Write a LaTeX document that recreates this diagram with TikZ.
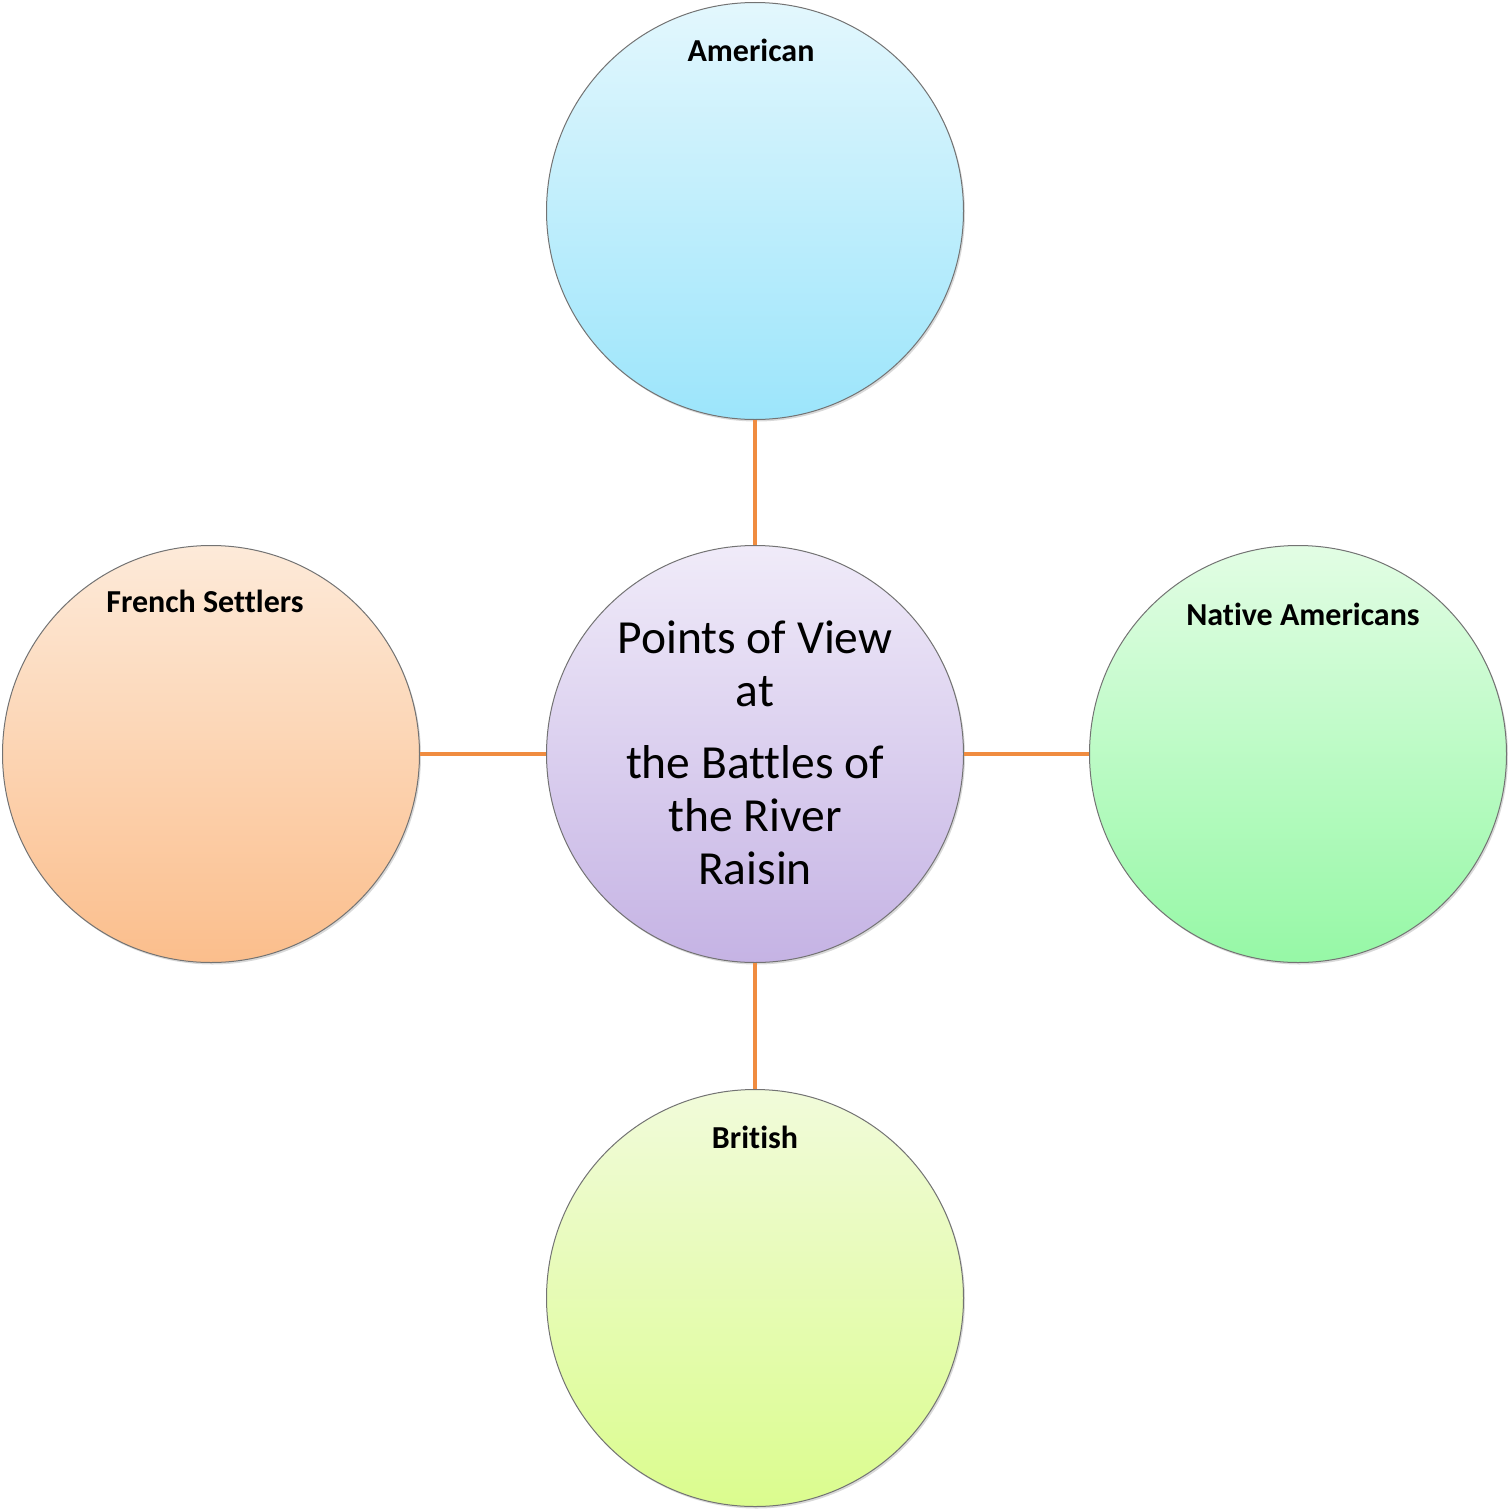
\documentclass[tikz,border=0pt]{standalone}
\usepackage{fontspec}
\setmainfont{Carlito}[Ligatures={NoCommon}]
\usetikzlibrary{shadows}
\begin{document}
\begin{tikzpicture}[x=1pt,y=-1pt,
  bubble/.style={circle,draw=black!55,line width=1pt,minimum size=417pt,inner sep=0pt,
    drop shadow={opacity=0.3,shadow xshift=1.5pt,shadow yshift=-2pt}},
  lab/.style={anchor=base,font=\fontsize{32}{38}\selectfont\bfseries,inner sep=0pt},
  ctext/.style={anchor=base,font=\fontsize{47.5}{57}\selectfont,inner sep=0pt},
  conn/.style={line width=4pt,color={rgb,255:red,240;green,140;blue,64}}]
\useasboundingbox (0,0) rectangle (1507,1509);
\node[bubble,top color={rgb,255:red,227;green,247;blue,253},bottom color={rgb,255:red,156;green,229;blue,251}] (am) at (755,211) {};
\node[bubble,top color={rgb,255:red,253;green,234;blue,217},bottom color={rgb,255:red,251;green,190;blue,140}] (fr) at (211,754) {};
\node[bubble,top color={rgb,255:red,226;green,253;blue,228},bottom color={rgb,255:red,150;green,248;blue,166}] (na) at (1298,754) {};
\node[bubble,top color={rgb,255:red,241;green,251;blue,218},bottom color={rgb,255:red,219;green,252;blue,142}] (br) at (755,1298) {};
\node[bubble,top color={rgb,255:red,240;green,235;blue,249},bottom color={rgb,255:red,197;green,179;blue,228}] (cen) at (755,754) {};
\draw[conn] (cen) -- (am);
\draw[conn] (cen) -- (fr);
\draw[conn] (cen) -- (na);
\draw[conn] (cen) -- (br);
\node[lab] (amlab) at (751,62) {American};
\node[lab] (frlab) at (205,612) {French Settlers};
\node[lab] (nalab) at (1303,625) {Native Americans};
\node[lab] (brlab) at (755,1148) {British};
\node[ctext] (c1) at (755,653) {Points of View};
\node[ctext] (c2) at (755,706) {at};
\node[ctext] (c3) at (755,778) {the Battles of};
\node[ctext] (c4) at (755,831) {the River};
\node[ctext] (c5) at (755,884) {Raisin};
\end{tikzpicture}
\end{document}
